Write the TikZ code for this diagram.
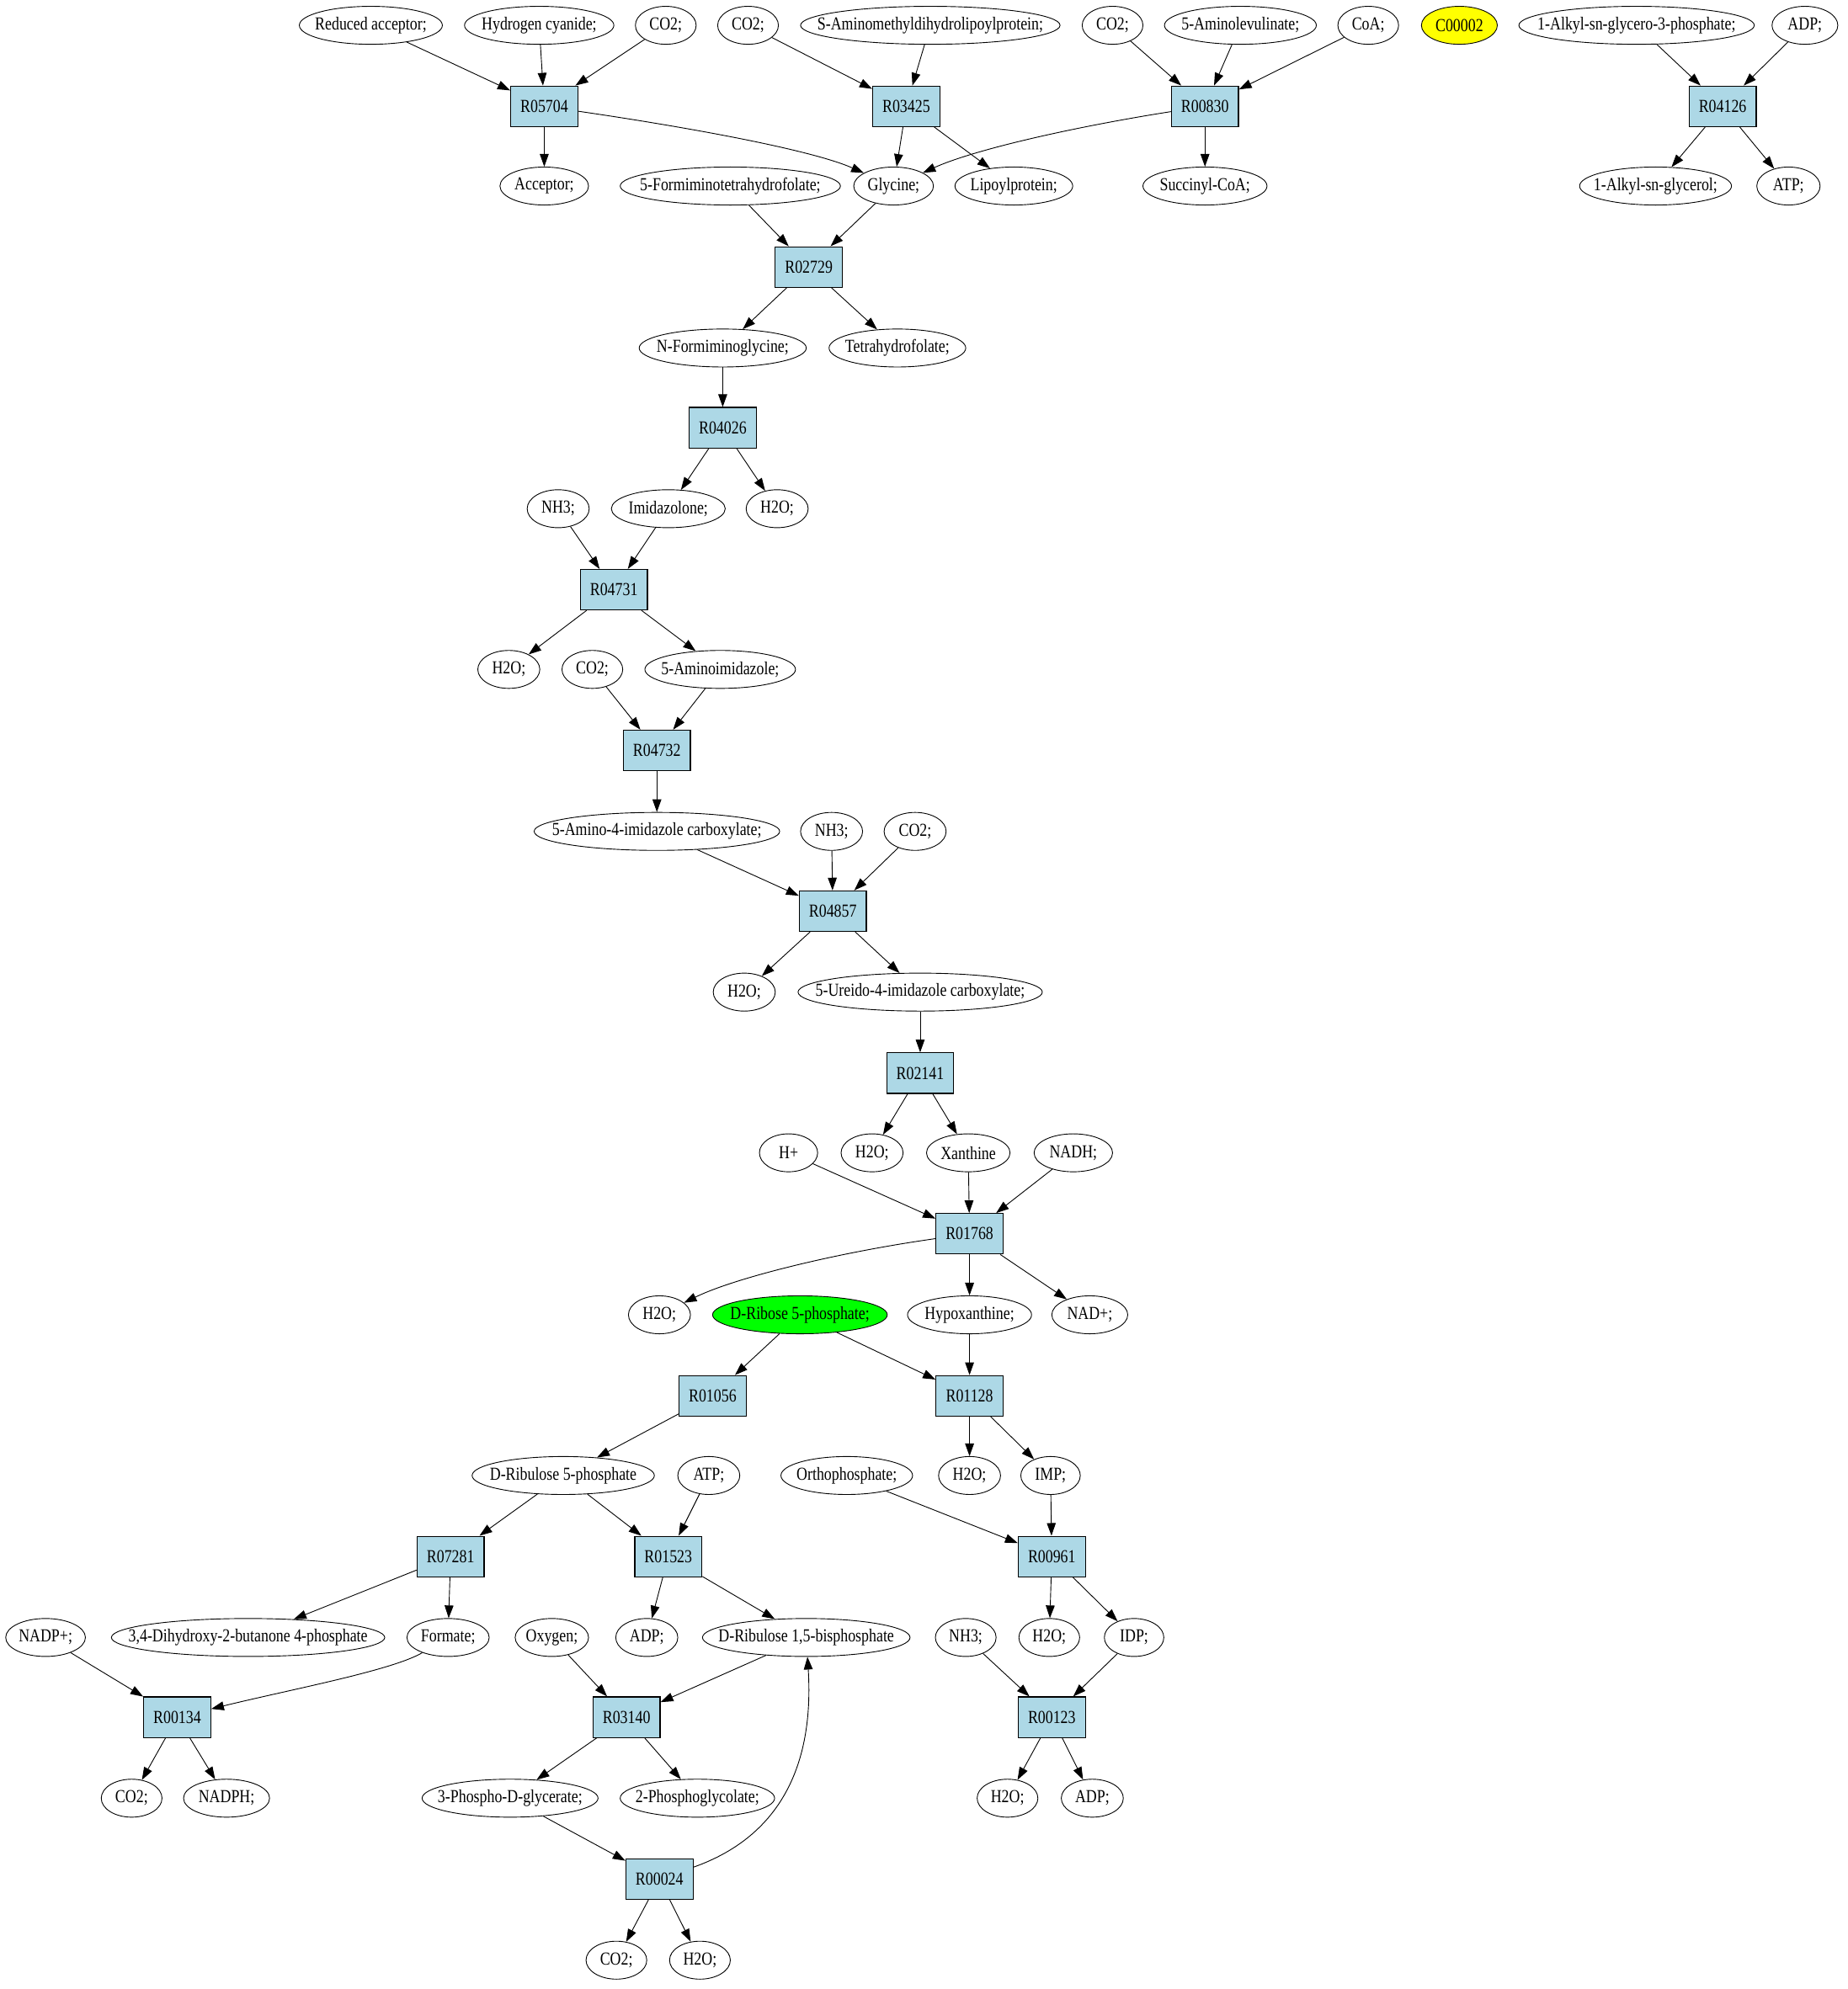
\documentclass[tikz,border=0pt]{standalone}
\usepackage{fontspec}
\setmainfont{Liberation Serif}[FakeStretch=0.82]
\usetikzlibrary{arrows.meta,shapes.geometric}
\newcommand\zb[1]{\makebox[0pt]{#1}}
\definecolor{rxblue}{HTML}{ADD8E6}
\definecolor{cgreen}{HTML}{00FF00}
\definecolor{cyellow}{HTML}{FFFF00}
\begin{document}
\begin{tikzpicture}[x=1pt,y=-1pt,
  font=\fontsize{14.5}{17}\selectfont,
  cpd/.style={ellipse,draw,line width=0.6pt,inner sep=0pt,minimum height=30pt,minimum width=#1pt},
  rxn/.style={rectangle,draw,line width=0.8pt,fill=rxblue,minimum width=53pt,minimum height=32pt,inner sep=0pt},
  arr/.style={-{Triangle[length=10pt,width=7pt]},line width=0.6pt}]
\useasboundingbox (0,0) rectangle (1460,1571.8);
% row 1
\node[cpd=113] (redacc) at (293,20) {\zb{Reduced acceptor;}};
\node[cpd=118] (hcn) at (426,20) {\zb{Hydrogen cyanide;}};
\node[cpd=48] (co2a) at (526,20) {\zb{CO2;}};
\node[cpd=48] (co2b) at (591,20) {\zb{CO2;}};
\node[cpd=205] (samino) at (735,20) {\zb{S-Aminomethyldihydrolipoylprotein;}};
\node[cpd=48] (co2c) at (879,20) {\zb{CO2;}};
\node[cpd=120] (ala) at (980,20) {\zb{5-Aminolevulinate;}};
\node[cpd=48] (coa) at (1081,20) {\zb{CoA;}};
\node[cpd=60,fill=cyellow] (c2) at (1153,20) {\zb{C00002}};
\node[cpd=186] (aglp) at (1293,20) {\zb{1-Alkyl-sn-glycero-3-phosphate;}};
\node[cpd=52] (adpa) at (1426,20) {\zb{ADP;}};
% row 2
\node[rxn] (R05704) at (430,84) {R05704};
\node[rxn] (R03425) at (716,84) {R03425};
\node[rxn] (R00830) at (952,84) {R00830};
\node[rxn] (R04126) at (1361,84) {R04126};
% row 3
\node[cpd=70] (acc) at (430,147) {\zb{Acceptor;}};
\node[cpd=174] (fthf) at (577,147) {\zb{5-Formiminotetrahydrofolate;}};
\node[cpd=63] (gly) at (706,147) {\zb{Glycine;}};
\node[cpd=93] (lipo) at (801,147) {\zb{Lipoylprotein;}};
\node[cpd=98] (succ) at (952,147) {\zb{Succinyl-CoA;}};
\node[cpd=120] (ag) at (1308,147) {\zb{1-Alkyl-sn-glycerol;}};
\node[cpd=50] (atpa) at (1413,147) {\zb{ATP;}};
% row 4-6
\node[rxn] (R02729) at (639,211) {R02729};
\node[cpd=132] (nfg) at (571,275) {\zb{N-Formiminoglycine;}};
\node[cpd=108] (thf) at (709,275) {\zb{Tetrahydrofolate;}};
\node[rxn] (R04026) at (571,338) {R04026};
% row 7-8
\node[cpd=49] (nh3a) at (441,402) {\zb{NH3;}};
\node[cpd=90] (imid) at (528,402) {\zb{Imidazolone;}};
\node[cpd=49] (h2oa) at (614,402) {\zb{H2O;}};
\node[rxn] (R04731) at (485,466) {R04731};
% row 9-10
\node[cpd=49] (h2ob) at (402,529) {\zb{H2O;}};
\node[cpd=48] (co2d) at (468,529) {\zb{CO2;}};
\node[cpd=119] (aimid) at (569,529) {\zb{5-Aminoimidazole;}};
\node[rxn] (R04732) at (519,593) {R04732};
% row 11-12
\node[cpd=194] (aic) at (519,657) {\zb{5-Amino-4-imidazole carboxylate;}};
\node[cpd=49] (nh3b) at (657,657) {\zb{NH3;}};
\node[cpd=49] (co2e) at (723,657) {\zb{CO2;}};
\node[rxn] (R04857) at (658,720) {R04857};
% row 13-14
\node[cpd=49] (h2oc) at (588,784) {\zb{H2O;}};
\node[cpd=193] (uic) at (727,784) {\zb{5-Ureido-4-imidazole carboxylate;}};
\node[rxn] (R02141) at (727,848) {R02141};
% row 15-16
\node[cpd=46] (hplus) at (623,911) {\zb{H+}};
\node[cpd=49] (h2od) at (689,911) {\zb{H2O;}};
\node[cpd=66] (xan) at (765,911) {\zb{Xanthine}};
\node[cpd=62] (nadh) at (848,911) {\zb{NADH;}};
\node[rxn] (R01768) at (766,975) {R01768};
% row 17-18
\node[cpd=49] (h2oe) at (521,1039) {\zb{H2O;}};
\node[cpd=138,fill=cgreen] (drib) at (632,1039) {\zb{D-Ribose 5-phosphate;}};
\node[cpd=98] (hypo) at (766,1039) {\zb{Hypoxanthine;}};
\node[cpd=60] (nadp) at (861,1039) {\zb{NAD+;}};
\node[rxn] (R01056) at (563,1103) {R01056};
\node[rxn] (R01128) at (766,1103) {R01128};
% row 19-20
\node[cpd=144] (dru5p) at (445,1166) {\zb{D-Ribulose 5-phosphate}};
\node[cpd=49] (atpb) at (560,1166) {\zb{ATP;}};
\node[cpd=104] (ortho) at (669,1166) {\zb{Orthophosphate;}};
\node[cpd=49] (h2of) at (766,1166) {\zb{H2O;}};
\node[cpd=47] (imp) at (830,1166) {\zb{IMP;}};
\node[rxn] (R07281) at (356,1230) {R07281};
\node[rxn] (R01523) at (528,1230) {R01523};
\node[rxn] (R00961) at (831,1230) {R00961};
% row 21-22
\node[cpd=63] (nadpp) at (36,1294) {\zb{NADP+;}};
\node[cpd=216] (dhb) at (196,1294) {\zb{3,4-Dihydroxy-2-butanone 4-phosphate}};
\node[cpd=65] (form) at (354,1294) {\zb{Formate;}};
\node[cpd=58] (oxy) at (436,1294) {\zb{Oxygen;}};
\node[cpd=49] (adpb) at (511,1294) {\zb{ADP;}};
\node[cpd=164] (rubp) at (637,1294) {\zb{D-Ribulose 1,5-bisphosphate}};
\node[cpd=48] (nh3c) at (763,1294) {\zb{NH3;}};
\node[cpd=48] (h2og) at (829,1294) {\zb{H2O;}};
\node[cpd=47] (idp) at (896,1294) {\zb{IDP;}};
\node[rxn] (R00134) at (140,1357) {R00134};
\node[rxn] (R03140) at (495,1357) {R03140};
\node[rxn] (R00123) at (831,1357) {R00123};
% row 23-25
\node[cpd=48] (co2f) at (104,1421) {\zb{CO2;}};
\node[cpd=68] (nadph) at (179,1421) {\zb{NADPH;}};
\node[cpd=139] (pga) at (403,1421) {\zb{3-Phospho-D-glycerate;}};
\node[cpd=122] (pgc) at (551,1421) {\zb{2-Phosphoglycolate;}};
\node[cpd=48] (h2oh) at (796,1421) {\zb{H2O;}};
\node[cpd=49] (adpc) at (863,1421) {\zb{ADP;}};
\node[rxn] (R00024) at (521,1485) {R00024};
\node[cpd=48] (co2g) at (487,1549) {\zb{CO2;}};
\node[cpd=48] (h2oi) at (553,1549) {\zb{H2O;}};
% edges
\draw[arr] (redacc) -- (R05704);
\draw[arr] (hcn) -- (R05704);
\draw[arr] (co2a) -- (R05704);
\draw[arr] (co2b) -- (R03425);
\draw[arr] (samino) -- (R03425);
\draw[arr] (co2c) -- (R00830);
\draw[arr] (ala) -- (R00830);
\draw[arr] (coa) -- (R00830);
\draw[arr] (aglp) -- (R04126);
\draw[arr] (adpa) -- (R04126);
\draw[arr] (R05704) -- (acc);
\draw[arr] (R05704) .. controls (540,100) and (640,118) .. (gly);
\draw[arr] (R03425) -- (gly);
\draw[arr] (R03425) -- (lipo);
\draw[arr] (R00830) .. controls (850,100) and (770,118) .. (gly);
\draw[arr] (R00830) -- (succ);
\draw[arr] (R04126) -- (ag);
\draw[arr] (R04126) -- (atpa);
\draw[arr] (fthf) -- (R02729);
\draw[arr] (gly) -- (R02729);
\draw[arr] (R02729) -- (nfg);
\draw[arr] (R02729) -- (thf);
\draw[arr] (nfg) -- (R04026);
\draw[arr] (R04026) -- (imid);
\draw[arr] (R04026) -- (h2oa);
\draw[arr] (nh3a) -- (R04731);
\draw[arr] (imid) -- (R04731);
\draw[arr] (R04731) -- (h2ob);
\draw[arr] (R04731) -- (aimid);
\draw[arr] (co2d) -- (R04732);
\draw[arr] (aimid) -- (R04732);
\draw[arr] (R04732) -- (aic);
\draw[arr] (aic) -- (R04857);
\draw[arr] (nh3b) -- (R04857);
\draw[arr] (co2e) -- (R04857);
\draw[arr] (R04857) -- (h2oc);
\draw[arr] (R04857) -- (uic);
\draw[arr] (uic) -- (R02141);
\draw[arr] (R02141) -- (h2od);
\draw[arr] (R02141) -- (xan);
\draw[arr] (hplus) -- (R01768);
\draw[arr] (xan) -- (R01768);
\draw[arr] (nadh) -- (R01768);
\draw[arr] (R01768) .. controls (660,990) and (580,1010) .. (h2oe);
\draw[arr] (R01768) -- (hypo);
\draw[arr] (R01768) -- (nadp);
\draw[arr] (drib) -- (R01056);
\draw[arr] (drib) -- (R01128);
\draw[arr] (hypo) -- (R01128);
\draw[arr] (R01056) -- (dru5p);
\draw[arr] (R01128) -- (h2of);
\draw[arr] (R01128) -- (imp);
\draw[arr] (dru5p) -- (R07281);
\draw[arr] (dru5p) -- (R01523);
\draw[arr] (atpb) -- (R01523);
\draw[arr] (ortho) -- (R00961);
\draw[arr] (imp) -- (R00961);
\draw[arr] (R07281) -- (dhb);
\draw[arr] (R07281) -- (form);
\draw[arr] (R01523) -- (adpb);
\draw[arr] (R01523) -- (rubp);
\draw[arr] (R00961) -- (h2og);
\draw[arr] (R00961) -- (idp);
\draw[arr] (nadpp) -- (R00134);
\draw[arr] (form) .. controls (310,1320) and (230,1335) .. (R00134);
\draw[arr] (oxy) -- (R03140);
\draw[arr] (rubp) -- (R03140);
\draw[arr] (nh3c) -- (R00123);
\draw[arr] (idp) -- (R00123);
\draw[arr] (R00134) -- (co2f);
\draw[arr] (R00134) -- (nadph);
\draw[arr] (R03140) -- (pga);
\draw[arr] (R03140) -- (pgc);
\draw[arr] (R00123) -- (h2oh);
\draw[arr] (R00123) -- (adpc);
\draw[arr] (pga) -- (R00024);
\draw[arr] (R00024) .. controls (620,1450) and (643,1390) .. (rubp);
\draw[arr] (R00024) -- (co2g);
\draw[arr] (R00024) -- (h2oi);
\end{tikzpicture}
\end{document}
